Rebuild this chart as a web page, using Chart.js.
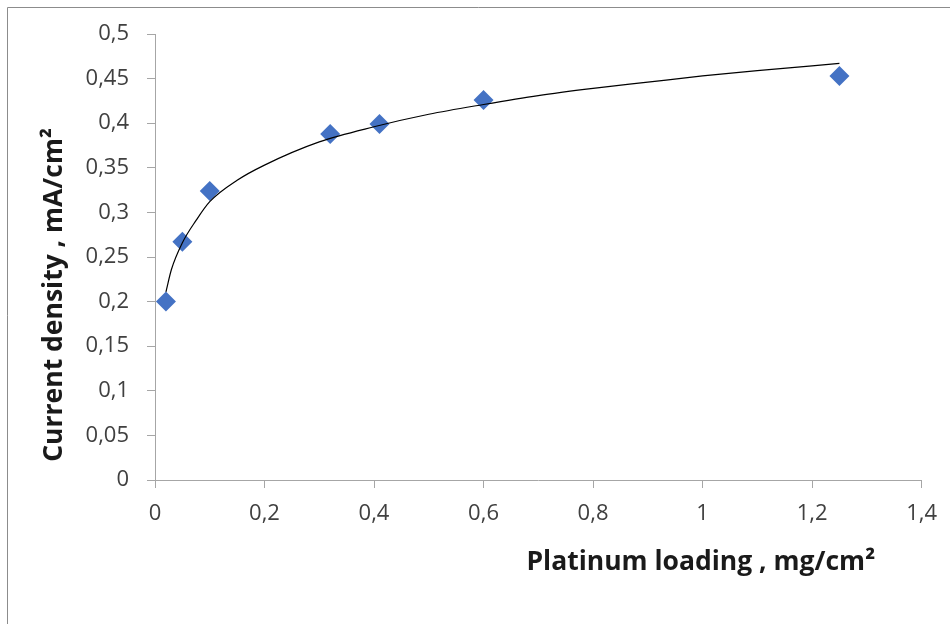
<!DOCTYPE html>
<html>
<head>
<meta charset="utf-8">
<script src="https://cdn.jsdelivr.net/npm/chart.js@4.4.1/dist/chart.umd.min.js"></script>
<style>
  html, body { margin: 0; padding: 0; background: #fff; }
  #wrap { width: 950px; height: 624px; position: relative; }
</style>
</head>
<body>
<div id="wrap"><canvas id="myChart"></canvas></div>
<script>
// measured points
const loading = [0.02, 0.05, 0.1, 0.32, 0.41, 0.6, 1.25];
const density = [0.2, 0.267, 0.324, 0.388, 0.399, 0.426, 0.453];

// trend line
const trendX = [0.02, 0.03, 0.05, 0.075, 0.1, 0.15, 0.2, 0.3, 0.4, 0.5, 0.6, 0.7, 0.8, 0.9, 1.0, 1.1, 1.25];
const trendY = [0.211, 0.236, 0.266, 0.291, 0.312, 0.336, 0.353, 0.379, 0.396, 0.410, 0.421, 0.431, 0.439, 0.446, 0.453, 0.459, 0.467];

const xTicks = [0, 0.2, 0.4, 0.6, 0.8, 1, 1.2, 1.4];
const yTicks = [0, 0.05, 0.1, 0.15, 0.2, 0.25, 0.3, 0.35, 0.4, 0.45, 0.5];

const xTitle = "Platinum loading , mg/cm\u00b2";
const yTitle = "Current density , mA/cm\u00b2";

const comma = v => String(v).replace(".", ",");
const axisGrey = "#a6a6a6";

// frame and axis titles
const decor = {
    id: "decor",
    beforeDraw(chart) {
        const c = chart.ctx;
        c.save();
        c.strokeStyle = "#8c8c8c";
        c.lineWidth = 1;
        c.beginPath();
        c.moveTo(7.5, 624);
        c.lineTo(7.5, 7.5);
        c.lineTo(950, 7.5);
        c.stroke();
        c.restore();
    },
    afterDraw(chart) {
        const c = chart.ctx;
        const a = chart.chartArea;
        c.save();
        c.fillStyle = "#1a1a1a";
        c.font = 'bold 26.5px "Open Sans"';
        c.textAlign = "center";
        c.textBaseline = "alphabetic";
        c.fillText(xTitle, a.left + (a.right - a.left) * 0.712, a.bottom + 90);
        c.translate(62, a.top + (a.bottom - a.top) * 0.585);
        c.rotate(-Math.PI / 2);
        c.fillText(yTitle, 0, 0);
        c.restore();
    }
};

Chart.defaults.font.family = '"Open Sans"';

const ctx = document.getElementById("myChart");

new Chart(ctx, {
    type: "scatter",
    data: {
        datasets: [
            {
                label: "trend",
                data: trendX.map((x, i) => ({ x: x, y: trendY[i] })),
                showLine: true,
                pointRadius: 0,
                borderColor: "#000",
                borderWidth: 1.2,
                cubicInterpolationMode: "monotone"
            },
            {
                label: "data",
                data: loading.map((x, i) => ({ x: x, y: density[i] })),
                pointStyle: "rectRot",
                pointRadius: 10,
                pointHoverRadius: 10,
                backgroundColor: "#4472c4",
                borderColor: "#4472c4",
                borderWidth: 0
            }
        ]
    },
    options: {
        responsive: true,
        maintainAspectRatio: false,
        animation: false,
        layout: { padding: { top: 34, right: 26, left: 0, bottom: 0 } },
        plugins: {
            legend: { display: false },
            tooltip: { enabled: false }
        },
        scales: {
            x: {
                type: "linear",
                min: 0,
                max: 1.4,
                afterBuildTicks: s => { s.ticks = xTicks.map(v => ({ value: v })); },
                afterFit: s => { s.height = 144; },
                grid: { drawOnChartArea: false, tickLength: 8, color: axisGrey },
                border: { color: axisGrey },
                ticks: {
                    padding: 13,
                    color: "#404040",
                    font: { size: 22 },
                    maxRotation: 0,
                    callback: v => comma(v)
                }
            },
            y: {
                type: "linear",
                min: 0,
                max: 0.5,
                afterBuildTicks: s => { s.ticks = yTicks.map(v => ({ value: v })); },
                afterFit: s => { s.width = 155; },
                grid: { drawOnChartArea: false, tickLength: 8, color: axisGrey },
                border: { color: axisGrey },
                ticks: {
                    padding: 18,
                    color: "#404040",
                    font: { size: 22 },
                    callback: v => comma(v)
                }
            }
        }
    },
    plugins: [decor]
});
</script>
</body>
</html>
